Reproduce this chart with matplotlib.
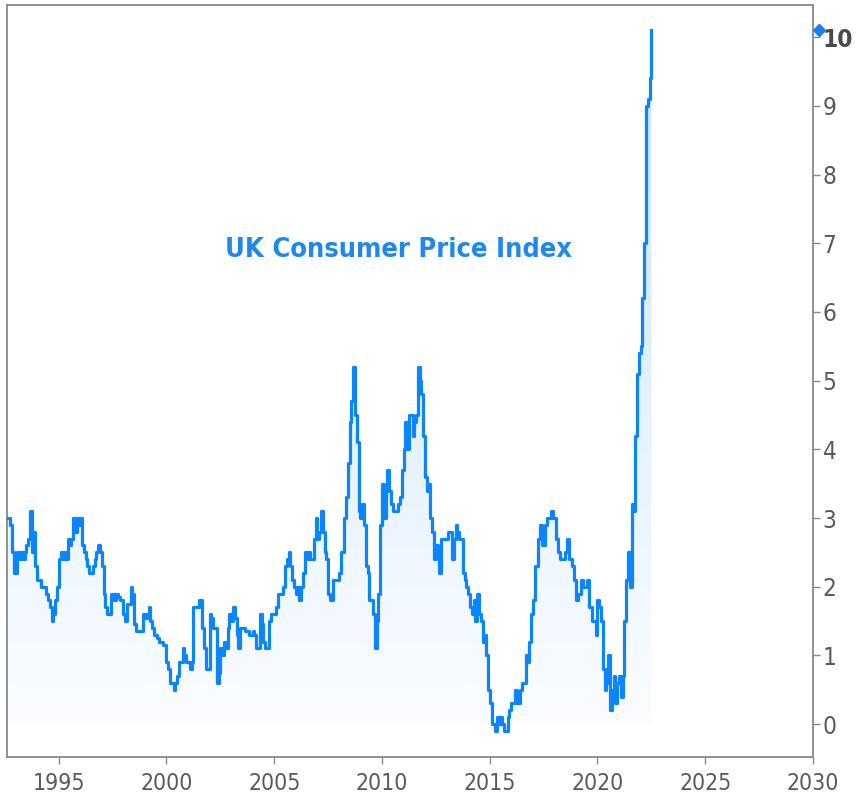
import numpy as np
import matplotlib
matplotlib.use('Agg')
import matplotlib.pyplot as plt
from matplotlib.transforms import blended_transform_factory

plt.rcParams['font.family'] = ['DejaVu Sans']
plt.rcParams['font.stretch'] = 'condensed'

# ── Data: UK CPI, annual rate (%), monthly from Aug 1992 ─────────
start_year = 1992 + 7 / 12      # Aug 1992
cpi_1992 = [3.0, 3.0, 2.9, 2.5, 2.2]
cpi_1993 = [2.2, 2.5, 2.4, 2.5, 2.4, 2.5, 2.6, 2.7, 3.1, 2.5, 2.8, 2.3]
cpi_1994 = [2.1, 2.1, 2.0, 2.0, 2.0, 1.9, 1.8, 1.7, 1.5, 1.6, 1.8, 2.0]
cpi_1995 = [2.4, 2.5, 2.4, 2.5, 2.4, 2.7, 2.6, 2.7, 3.0, 2.8, 3.0, 2.9]
cpi_1996 = [3.0, 2.6, 2.5, 2.4, 2.3, 2.2, 2.2, 2.3, 2.4, 2.5, 2.6, 2.5]
cpi_1997 = [2.3, 1.9, 1.7, 1.6, 1.6, 1.9, 1.9, 1.8, 1.9, 1.85, 1.8, 1.8]
cpi_1998 = [1.6, 1.5, 1.75, 1.75, 2.0, 1.9, 1.45, 1.35, 1.35, 1.35, 1.35, 1.6]
cpi_1999 = [1.55, 1.6, 1.7, 1.5, 1.4, 1.3, 1.3, 1.25, 1.2, 1.2, 1.15, 1.15]
cpi_2000 = [0.9, 0.8, 0.6, 0.6, 0.5, 0.6, 0.7, 0.9, 0.9, 1.1, 1.0, 0.9]
cpi_2001 = [0.9, 0.8, 0.9, 1.7, 1.7, 1.7, 1.8, 1.8, 1.4, 1.1, 0.8, 0.8]
cpi_2002 = [1.6, 1.55, 1.4, 1.4, 0.6, 0.75, 1.1, 1.0, 1.2, 1.1, 1.4, 1.6]
cpi_2003 = [1.5, 1.7, 1.55, 1.3, 1.1, 1.4, 1.4, 1.4, 1.35, 1.35, 1.3, 1.3]
cpi_2004 = [1.35, 1.3, 1.1, 1.1, 1.6, 1.45, 1.2, 1.1, 1.1, 1.5, 1.6, 1.6]
cpi_2005 = [1.6, 1.7, 1.9, 1.9, 1.9, 2.0, 2.3, 2.4, 2.5, 2.3, 2.1, 2.0]
cpi_2006 = [1.9, 2.0, 1.8, 2.0, 2.2, 2.5, 2.4, 2.5, 2.4, 2.4, 2.7, 3.0]
cpi_2007 = [2.7, 2.8, 3.1, 2.8, 2.5, 2.4, 1.9, 1.8, 1.8, 2.1, 2.1, 2.1]
cpi_2008 = [2.2, 2.5, 2.5, 3.0, 3.3, 3.8, 4.4, 4.7, 5.2, 4.5, 4.1, 3.1]
cpi_2009 = [3.0, 3.2, 2.9, 2.3, 2.2, 1.8, 1.8, 1.6, 1.1, 1.5, 1.9, 2.9]
cpi_2010 = [3.5, 3.0, 3.4, 3.7, 3.4, 3.2, 3.1, 3.1, 3.1, 3.2, 3.3, 3.7]
cpi_2011 = [4.0, 4.4, 4.0, 4.5, 4.5, 4.2, 4.4, 4.5, 5.2, 5.0, 4.8, 4.2]
cpi_2012 = [3.6, 3.4, 3.5, 3.0, 2.8, 2.4, 2.6, 2.5, 2.2, 2.7, 2.7, 2.7]
cpi_2013 = [2.7, 2.8, 2.8, 2.4, 2.7, 2.9, 2.8, 2.7, 2.7, 2.2, 2.1, 2.0]
cpi_2014 = [1.9, 1.7, 1.6, 1.8, 1.5, 1.9, 1.6, 1.5, 1.2, 1.3, 1.0, 0.5]
cpi_2015 = [0.3, 0.0, 0.0, -0.1, 0.1, 0.0, 0.1, 0.0, -0.1, -0.1, 0.1, 0.2]
cpi_2016 = [0.3, 0.3, 0.5, 0.3, 0.3, 0.5, 0.6, 0.6, 1.0, 0.9, 1.2, 1.6]
cpi_2017 = [1.8, 2.3, 2.3, 2.7, 2.9, 2.6, 2.6, 2.9, 3.0, 3.0, 3.1, 3.0]
cpi_2018 = [3.0, 2.7, 2.5, 2.4, 2.4, 2.4, 2.5, 2.7, 2.4, 2.4, 2.3, 2.1]
cpi_2019 = [1.8, 1.9, 1.9, 2.1, 2.0, 2.0, 2.1, 1.7, 1.7, 1.5, 1.5, 1.3]
cpi_2020 = [1.8, 1.7, 1.5, 0.8, 0.5, 0.6, 1.0, 0.2, 0.5, 0.7, 0.3, 0.6]
cpi_2021 = [0.7, 0.4, 0.7, 1.5, 2.1, 2.5, 2.0, 3.2, 3.1, 4.2, 5.1, 5.4]
cpi_2022 = [5.5, 6.2, 7.0, 9.0, 9.1, 9.4, 10.1]

cpi = np.array(cpi_1992 + cpi_1993 + cpi_1994 + cpi_1995 + cpi_1996 + cpi_1997
               + cpi_1998 + cpi_1999 + cpi_2000 + cpi_2001 + cpi_2002 + cpi_2003
               + cpi_2004 + cpi_2005 + cpi_2006 + cpi_2007 + cpi_2008 + cpi_2009
               + cpi_2010 + cpi_2011 + cpi_2012 + cpi_2013 + cpi_2014 + cpi_2015
               + cpi_2016 + cpi_2017 + cpi_2018 + cpi_2019 + cpi_2020 + cpi_2021
               + cpi_2022)
dates = start_year + np.arange(len(cpi)) / 12

x_ticks = [1995, 2000, 2005, 2010, 2015, 2020, 2025, 2030]
y_ticks = list(range(0, 11))
title = 'UK Consumer Price Index'

LINE = '#0a85ff'
GRAY = '#888888'
TXT = '#595959'

# ── Plot ──────────────────────────────────────────────────────
fig = plt.figure(figsize=(8.56, 8.0), dpi=100)
fig.patch.set_facecolor('white')
ax = fig.add_axes([7 / 856, 1 - 757 / 800, (813 - 7) / 856, (757 - 5) / 800])

# gradient area under the line
poly = ax.fill_between(dates, cpi, 0, step='post', color='none', lw=0)
grad = np.zeros((256, 1, 4))
grad[:, 0, :3] = matplotlib.colors.to_rgb(LINE)
grad[:, 0, 3] = np.linspace(0.02, 0.22, 256)
img = ax.imshow(grad, extent=[dates[0], dates[-1], 0, cpi.max()],
                origin='lower', aspect='auto', zorder=1, interpolation='bilinear')
img.set_clip_path(poly.get_paths()[0], transform=ax.transData)

ax.plot(dates, cpi, drawstyle='steps-post', color=LINE, lw=2.3, zorder=3)

ax.set_xlim(1992.6, 2030)
ax.set_ylim(-0.48, 10.47)

ax.yaxis.tick_right()
ax.set_yticks(y_ticks)
ax.set_xticks(x_ticks)
ax.tick_params(axis='y', length=5, width=1, color=GRAY, labelsize=17.5,
               labelcolor=TXT, pad=2)
ax.tick_params(axis='x', length=5, width=1, color=GRAY, labelsize=16.5,
               labelcolor=TXT, pad=6)
for lab in ax.get_yticklabels():
    if lab.get_text() == '10':
        lab.set_fontweight('bold')
        lab.set_color('#4a4a4a')

for sp in ax.spines.values():
    sp.set_color(GRAY)
    sp.set_linewidth(1.3)

# last value marker on the right axis
trans = blended_transform_factory(ax.transAxes, ax.transData)
ax.plot([1.008], [cpi[-1]], marker='D', ms=6, color='#1a7ff0',
        transform=trans, clip_on=False, zorder=5)

ax.text(2010.75, 6.9, title, color='#1f88f0', fontsize=19.5, fontweight='bold',
        ha='center', va='center')

fig.savefig('out.png', dpi=100)
